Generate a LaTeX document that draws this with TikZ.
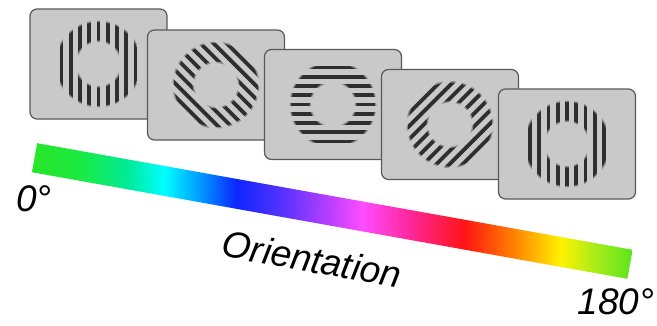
\documentclass[tikz,border=0pt]{standalone}
\usepackage{fontspec}
\setmainfont{Liberation Sans}
% Hue wheel laid out along the bar: the middle 50bp span covers the path
\pgfdeclarehorizontalshading{orientation hue}{100bp}{%
  rgb(0bp)=(0.16,0.90,0.16);
  rgb(25bp)=(0.16,0.90,0.16);
  rgb(29bp)=(0.10,0.92,0.25);
  rgb(33bp)=(0.00,0.92,0.60);
  rgb(36bp)=(0.00,1.00,1.00);
  rgb(39bp)=(0.00,0.60,1.00);
  rgb(42bp)=(0.05,0.15,1.00);
  rgb(46bp)=(0.35,0.20,1.00);
  rgb(50bp)=(0.75,0.25,1.00);
  rgb(52.5bp)=(1.00,0.30,1.00);
  rgb(56.5bp)=(1.00,0.15,0.60);
  rgb(61bp)=(1.00,0.08,0.08);
  rgb(65bp)=(1.00,0.50,0.00);
  rgb(69bp)=(1.00,0.95,0.00);
  rgb(72bp)=(0.65,0.92,0.10);
  rgb(75bp)=(0.35,0.90,0.12);
  rgb(100bp)=(0.35,0.90,0.12)}
% Oriented grating on an annulus, centred on a panel node
\newcommand\oriGrating[2]{%
  \begin{scope}[shift={(#1.center)}, rotate=#2]
    \begin{scope}[even odd rule]
      \clip (0,0) circle[radius=43.5pt] (0,0) circle[radius=22pt];
      \foreach \k in {-5,...,5} \draw[stripe halo] (9.25*\k,-48) -- (9.25*\k,48);
    \end{scope}
    \begin{scope}[even odd rule]
      \clip (0,0) circle[radius=42pt] (0,0) circle[radius=23.5pt];
      \foreach \k in {-5,...,5} \draw[stripe] (9.25*\k,-48) -- (9.25*\k,48);
    \end{scope}
  \end{scope}}
\begin{document}
\begin{tikzpicture}[x=1pt, y=-1pt,
  panel/.style={draw=black!65, line width=1.2pt, fill=black!21,
    rounded corners=7pt, minimum width=137pt, minimum height=110pt, inner sep=0pt},
  stripe/.style={line width=3.6pt, draw=black!82},
  stripe halo/.style={line width=3.8pt, draw=black!45},
  huebar/.style={shading=orientation hue, minimum width=605pt, minimum height=29.5pt,
    inner sep=0pt},
  axis text/.style={font=\fontsize{37}{40}\selectfont\itshape, inner sep=0pt}]
\useasboundingbox (0,0) rectangle (657,325);

% stacked stimulus panels, each one over the previous
\node[panel] (p1) at (98.5,64) {};
\oriGrating{p1}{0}
\node[panel] (p2) at (216,85) {};
\oriGrating{p2}{45}
\node[panel] (p3) at (333,104.5) {};
\oriGrating{p3}{90}
\node[panel] (p4) at (450,124.5) {};
\oriGrating{p4}{135}
\node[panel] (p5) at (567,144) {};
\oriGrating{p5}{180}

% orientation colour scale
\node[huebar, rotate=-10.15] (bar) at (332.3,211) {};
\node[axis text] (lo) at (34,198.5) {0°};
\node[axis text] (hi) at (616,302) {180°};
\node[axis text, rotate=-10.2] (lab) at (312,259) {Orientation};
\end{tikzpicture}
\end{document}
